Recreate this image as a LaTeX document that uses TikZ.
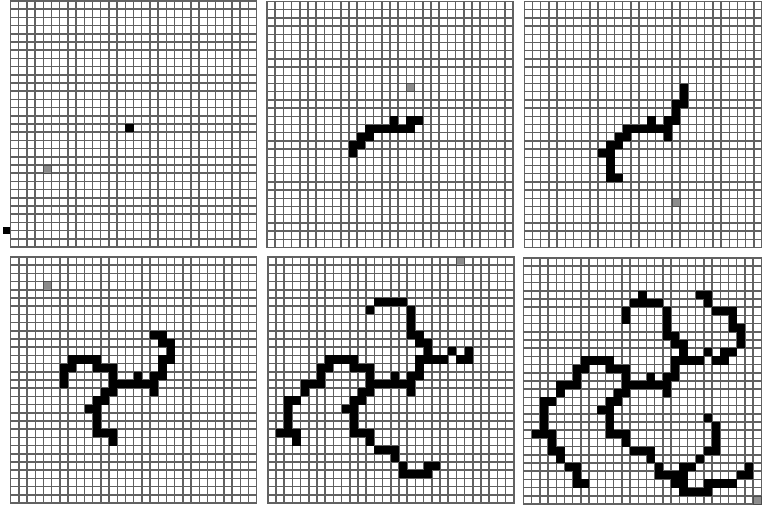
\documentclass[tikz,border=0pt]{standalone}
\tikzset{
  gridln/.style={draw=black!62, line width=1.5pt},
  blk/.style={fill=black},
  gry/.style={fill=black!45, draw=black!70, line width=0.6pt},
  panel/.style={x=8.2pt, y=-8.2pt}
}
\newcommand\fillcells[2]{\foreach \c/\r in #2 {\path[#1] (\c,\r) rectangle ++(1,1);}}
\newcommand\panelgrid{\draw[gridln] (0,0) rectangle (30,30); \foreach \k in {1,...,29} {\draw[gridln] (\k,0) -- (\k,30); \draw[gridln] (0,\k) -- (30,\k);}}
\def\SA{14/15}
\def\SB{15/14,17/14,18/14,12/15,13/15,14/15,15/15,16/15,17/15,11/16,12/16,10/17,11/17,10/18}
\def\SC{19/10,19/11,19/12,18/12,18/13,17/16,9/18,10/19,10/20,10/21,11/21}
\def\SD{17/9,18/9,18/10,12/13,12/14,10/13,11/13,7/12,8/12,9/12,10/12,6/13,7/13,6/14,6/15,12/21,12/22}
\def\SE{17/6,17/7,17/8,13/5,14/5,15/5,16/5,12/6,20/12,21/12,22/11,23/12,24/12,24/11,5/15,4/15,4/16,3/17,2/17,2/18,2/19,2/20,2/21,1/21,3/21,3/22,13/23,14/23,15/23,15/24,16/25,16/26,17/26,18/26,19/26,19/25,20/25}
\def\SF{14/4,12/7,21/4,22/4,22/5,23/6,24/6,25/6,25/7,25/8,26/8,26/9,26/10,25/11,3/23,4/23,4/24,5/25,6/25,6/26,6/27,7/27,21/24,22/23,23/20,23/21,23/22,23/23,22/19,18/27,19/27,19/28,20/28,21/28,22/28,22/27,23/27,24/27,25/27,26/26,27/25,27/26}
\begin{document}
\begin{tikzpicture}[x=1pt,y=-1pt]
\useasboundingbox (0,0) rectangle (762,506);
\clip (0,0) rectangle (762,506);
\fill[white] (0,0) rectangle (762,506);
% panel 1
\begin{scope}[shift={(10.5,1)}, panel]
  \panelgrid
  \fillcells{gry}{{4/20}}
  \fillcells{blk}{\SA}
\end{scope}
\fill[black] (3.3,227) rectangle (10.3,234);
% panel 2
\begin{scope}[shift={(267,1.5)}, panel]
  \panelgrid
  \fillcells{gry}{{17/10}}
  \fillcells{blk}{\SB}
\end{scope}
% panel 3
\begin{scope}[shift={(524.3,1.5)}, panel]
  \panelgrid
  \fillcells{gry}{{18/24}}
  \fillcells{blk}{\SB}
  \fillcells{blk}{\SC}
\end{scope}
% panel 4
\begin{scope}[shift={(10.7,257)}, panel]
  \panelgrid
  \fillcells{gry}{{4/3}}
  \fillcells{blk}{\SB}
  \fillcells{blk}{\SC}
  \fillcells{blk}{\SD}
\end{scope}
% panel 5
\begin{scope}[shift={(267.8,257)}, panel]
  \panelgrid
  \fillcells{gry}{{23/0}}
  \fillcells{blk}{\SB}
  \fillcells{blk}{\SC}
  \fillcells{blk}{\SD}
  \fillcells{blk}{\SE}
\end{scope}
% panel 6
\begin{scope}[shift={(523.5,258)}, panel]
  \panelgrid
  \fillcells{gry}{{28/29}}
  \fillcells{blk}{\SB}
  \fillcells{blk}{\SC}
  \fillcells{blk}{\SD}
  \fillcells{blk}{\SE}
  \fillcells{blk}{\SF}
\end{scope}
\end{tikzpicture}
\end{document}
